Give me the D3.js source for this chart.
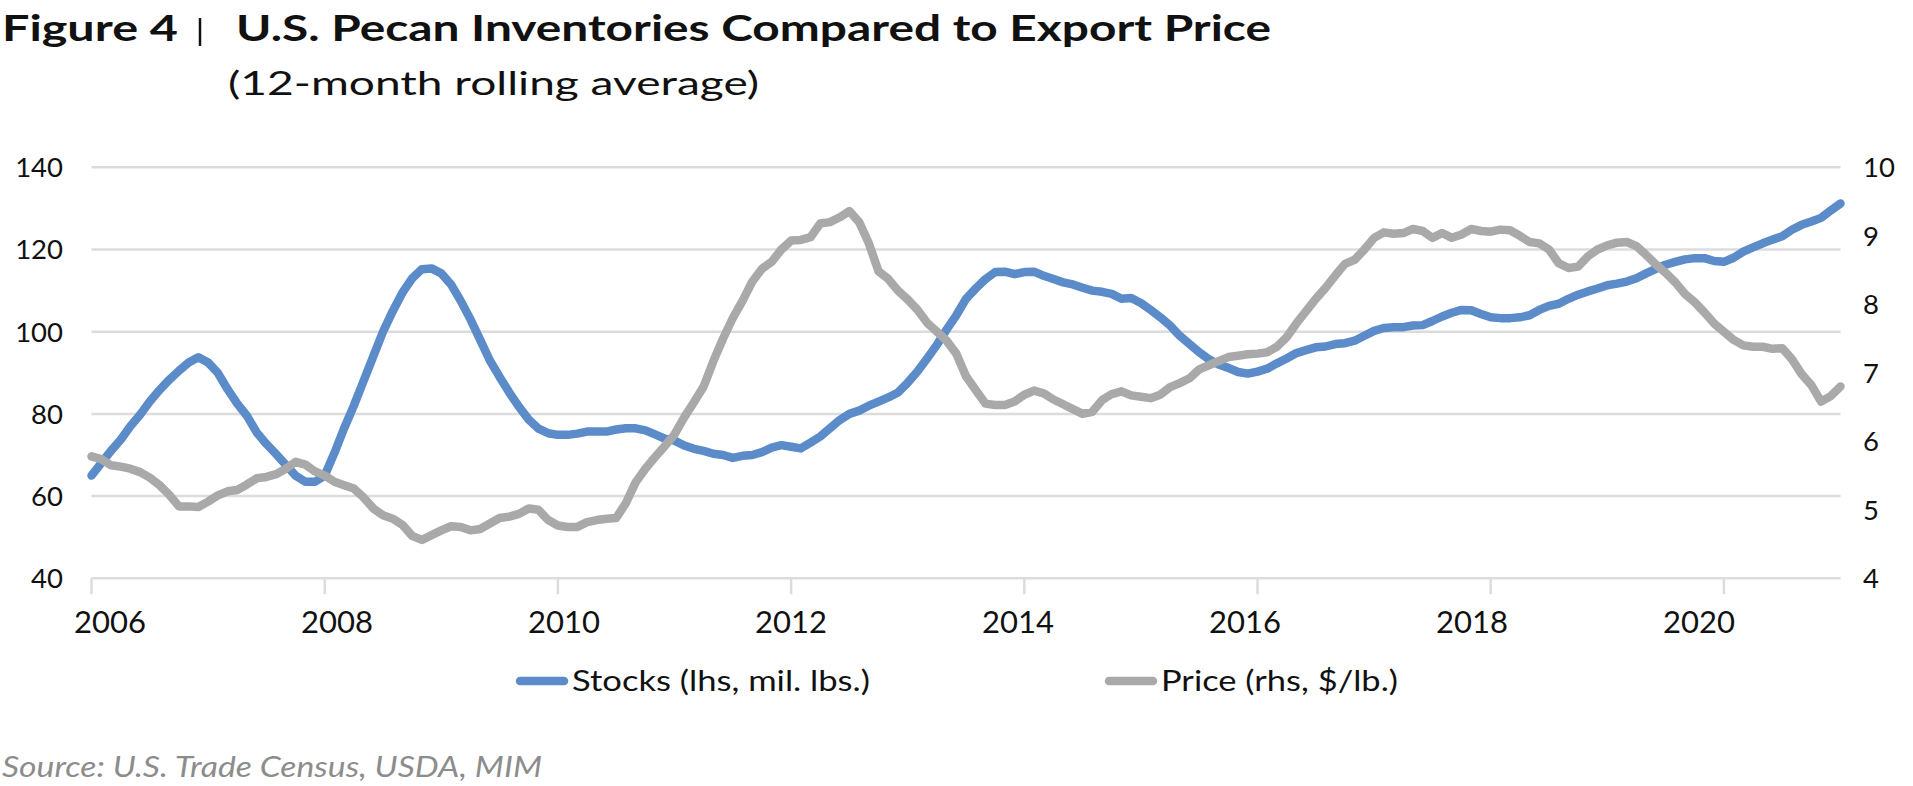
<!DOCTYPE html>
<html>
<head>
<meta charset="utf-8">
<script src="https://cdn.jsdelivr.net/npm/d3@7"></script>
<style>
  html, body { margin: 0; padding: 0; background: #fff; }
  svg { display: block; }
  text { font-family: Lato, "Open Sans", sans-serif; }
</style>
</head>
<body>
<svg id="chart" width="1913" height="786"></svg>
<script>
// ---------------- DATA ----------------
const startYear = 2006;           // first month: Jan 2006
const monthCount = 181;           // Jan 2006 .. Jan 2021
const months = d3.range(monthCount).map(i => `${startYear + Math.floor(i / 12)}-${String(i % 12 + 1).padStart(2, "0")}`);

const stocks = [
  65, 68, 71, 73.7, 77, 79.8, 83, 85.8, 88.3, 90.5, 92.5, 93.8,
  92.5, 90, 86, 82.5, 79.5, 75.5, 72.7, 70.2, 67.6, 65, 63.5, 63.5,
  65, 70.5, 76.5, 82, 88, 94, 100, 105, 109.5, 113, 115.2, 115.4,
  114.2, 111.5, 107.5, 103, 98, 93, 89, 85.2, 81.7, 78.6, 76.4, 75.3,
  74.9, 74.9, 75.2, 75.7, 75.7, 75.7, 76.2, 76.5, 76.5, 76, 75, 74,
  73.5, 72.3, 71.5, 71, 70.3, 70, 69.3, 69.8, 70, 70.7, 71.8, 72.4,
  72, 71.6, 73, 74.5, 76.5, 78.5, 80, 80.8, 82, 83, 84, 85.2,
  87.6, 90.3, 93.5, 96.8, 100.5, 104, 108, 110.5, 112.8, 114.5, 114.6, 114,
  114.5, 114.6, 113.6, 112.8, 112, 111.5, 110.7, 110, 109.7, 109.2, 108, 108.2,
  107, 105.3, 103.5, 101.5, 99, 97, 95, 93.3, 92, 91.2, 90.2, 89.8,
  90.3, 91, 92.3, 93.5, 94.8, 95.5, 96.2, 96.4, 97, 97.2, 97.8, 99,
  100.2, 100.9, 101.1, 101.1, 101.5, 101.6, 102.6, 103.7, 104.6, 105.3, 105.2, 104.3,
  103.5, 103.3, 103.3, 103.5, 104, 105.3, 106.3, 106.8, 108, 109, 109.8, 110.5,
  111.3, 111.7, 112.2, 113, 114.2, 115.3, 116.3, 117, 117.6, 117.9, 117.9, 117.2,
  117, 118, 119.5, 120.5, 121.5, 122.4, 123.2, 124.8, 126, 126.8, 127.7, 129.5,
  131.2
];

const price = [
  5.78, 5.74, 5.65, 5.63, 5.60, 5.55, 5.47, 5.36, 5.22, 5.05, 5.05, 5.04,
  5.12, 5.21, 5.27, 5.29, 5.37, 5.46, 5.48, 5.52, 5.60, 5.70, 5.66, 5.56,
  5.50, 5.41, 5.36, 5.31, 5.18, 5.02, 4.92, 4.87, 4.78, 4.62, 4.56, 4.63,
  4.70, 4.76, 4.75, 4.70, 4.72, 4.80, 4.88, 4.90, 4.94, 5.02, 5.00, 4.85,
  4.77, 4.75, 4.75, 4.82, 4.85, 4.87, 4.88, 5.10, 5.40, 5.60, 5.77, 5.93,
  6.10, 6.35, 6.57, 6.80, 7.17, 7.50, 7.80, 8.05, 8.33, 8.52, 8.62, 8.80,
  8.93, 8.94, 8.98, 9.18, 9.20, 9.27, 9.36, 9.20, 8.89, 8.48, 8.37, 8.20,
  8.07, 7.92, 7.73, 7.60, 7.47, 7.28, 6.95, 6.75, 6.55, 6.53, 6.53, 6.58,
  6.68, 6.74, 6.70, 6.61, 6.54, 6.47, 6.40, 6.43, 6.60, 6.69, 6.73, 6.67,
  6.65, 6.63, 6.68, 6.79, 6.85, 6.92, 7.05, 7.11, 7.17, 7.23, 7.25, 7.27,
  7.28, 7.30, 7.38, 7.52, 7.72, 7.90, 8.08, 8.24, 8.42, 8.59, 8.65, 8.80,
  8.97, 9.05, 9.03, 9.04, 9.10, 9.07, 8.97, 9.04, 8.97, 9.02, 9.10, 9.07,
  9.06, 9.09, 9.08, 9.00, 8.91, 8.89, 8.80, 8.60, 8.53, 8.55, 8.70, 8.80,
  8.86, 8.90, 8.91, 8.85, 8.72, 8.58, 8.46, 8.32, 8.15, 8.03, 7.88, 7.72,
  7.60, 7.48, 7.40, 7.38, 7.38, 7.35, 7.36, 7.20, 6.98, 6.82, 6.58, 6.66,
  6.80
];

const xTickLabels = ["2006", "2008", "2010", "2012", "2014", "2016", "2018", "2020"];
const leftTicks = [40, 60, 80, 100, 120, 140];
const rightTicks = [4, 5, 6, 7, 8, 9, 10];

const titleLead = "Figure 4";
const titleMain = "U.S. Pecan Inventories Compared to Export Price";
const subtitle = "(12-month rolling average)";
const legendLabels = ["Stocks (lhs, mil. lbs.)", "Price (rhs, $/lb.)"];
const sourceText = "Source: U.S. Trade Census, USDA, MIM";

// ---------------- LAYOUT ----------------
const colors = { stocks: "#5b8bc8", price: "#a9a9a9", grid: "#dcdcdc", text: "#111111", source: "#8c8c8c" };
const plot = { left: 91.5, right: 1840.5, top: 167.3, bottom: 578.3 };

const svg = d3.select("#chart");

const x = d3.scalePoint().domain(months).range([plot.left, plot.right]);
const yL = d3.scaleLinear().domain([40, 140]).range([plot.bottom, plot.top]);
const yR = d3.scaleLinear().domain([4, 10]).range([plot.bottom, plot.top]);
// tick labels in the original sit on a slightly narrower span than the tick marks
const xLabel = d3.scalePoint().domain(xTickLabels).range([plot.left + 18.5, plot.right - 141.5]);

// gridlines
svg.append("g").selectAll("line").data(leftTicks).join("line")
  .attr("x1", plot.left).attr("x2", plot.right)
  .attr("y1", d => yL(d)).attr("y2", d => yL(d))
  .attr("stroke", colors.grid).attr("stroke-width", 2.5);

// x tick marks
svg.append("g").selectAll("line").data(xTickLabels).join("line")
  .attr("x1", d => x(`${d}-01`)).attr("x2", d => x(`${d}-01`))
  .attr("y1", plot.bottom).attr("y2", plot.bottom + 16)
  .attr("stroke", colors.grid).attr("stroke-width", 2.5);

// x labels
svg.append("g").selectAll("text").data(xTickLabels).join("text")
  .attr("x", d => xLabel(d)).attr("y", 633)
  .attr("text-anchor", "middle").attr("font-size", 31).attr("fill", colors.text)
  .text(d => d);

// left labels
svg.append("g").selectAll("text").data(leftTicks).join("text")
  .attr("x", 63).attr("y", d => yL(d)).attr("dy", "0.36em")
  .attr("text-anchor", "end").attr("font-size", 27.5).attr("fill", colors.text)
  .text(d => d);

// right labels
svg.append("g").selectAll("text").data(rightTicks).join("text")
  .attr("x", 1863).attr("y", d => yR(d)).attr("dy", "0.36em")
  .attr("text-anchor", "start").attr("font-size", 27.5).attr("fill", colors.text)
  .text(d => d);

// lines
const lineL = d3.line().x((d, i) => x(months[i])).y(d => yL(d));
const lineR = d3.line().x((d, i) => x(months[i])).y(d => yR(d));

svg.append("path").datum(stocks).attr("d", lineL)
  .attr("fill", "none").attr("stroke", colors.stocks).attr("stroke-width", 8.5)
  .attr("stroke-linejoin", "round").attr("stroke-linecap", "round");
svg.append("path").datum(price).attr("d", lineR)
  .attr("fill", "none").attr("stroke", colors.price).attr("stroke-width", 8.5)
  .attr("stroke-linejoin", "round").attr("stroke-linecap", "round");

// title
svg.append("text").attr("x", 2).attr("y", 41).attr("font-size", 37).attr("font-weight", 700)
  .attr("fill", colors.text).attr("textLength", 176).attr("lengthAdjust", "spacingAndGlyphs").text(titleLead);
svg.append("line").attr("x1", 200).attr("x2", 200).attr("y1", 18).attr("y2", 46)
  .attr("stroke", colors.text).attr("stroke-width", 2.5);
svg.append("text").attr("x", 236).attr("y", 41).attr("font-size", 37).attr("font-weight", 700)
  .attr("fill", colors.text).attr("textLength", 1035).attr("lengthAdjust", "spacingAndGlyphs").text(titleMain);
svg.append("text").attr("x", 228).attr("y", 95).attr("font-size", 32)
  .attr("fill", colors.text).attr("textLength", 531).attr("lengthAdjust", "spacingAndGlyphs").text(subtitle);

// legend
const legend = [
  { label: legendLabels[0], color: colors.stocks, x0: 516, w: 298 },
  { label: legendLabels[1], color: colors.price, x0: 1105, w: 237 }
];
const lg = svg.append("g").selectAll("g").data(legend).join("g");
lg.append("line").attr("x1", d => d.x0 + 4).attr("x2", d => d.x0 + 48)
  .attr("y1", 681).attr("y2", 681)
  .attr("stroke", d => d.color).attr("stroke-width", 8.5).attr("stroke-linecap", "round");
lg.append("text").attr("x", d => d.x0 + 56).attr("y", 691).attr("font-size", 29).attr("fill", colors.text)
  .attr("textLength", d => d.w).attr("lengthAdjust", "spacingAndGlyphs").text(d => d.label);

// source
svg.append("text").attr("x", 2).attr("y", 777).attr("font-size", 29).attr("font-style", "italic")
  .attr("fill", colors.source).attr("textLength", 540).attr("lengthAdjust", "spacingAndGlyphs").text(sourceText);
</script>
</body>
</html>
